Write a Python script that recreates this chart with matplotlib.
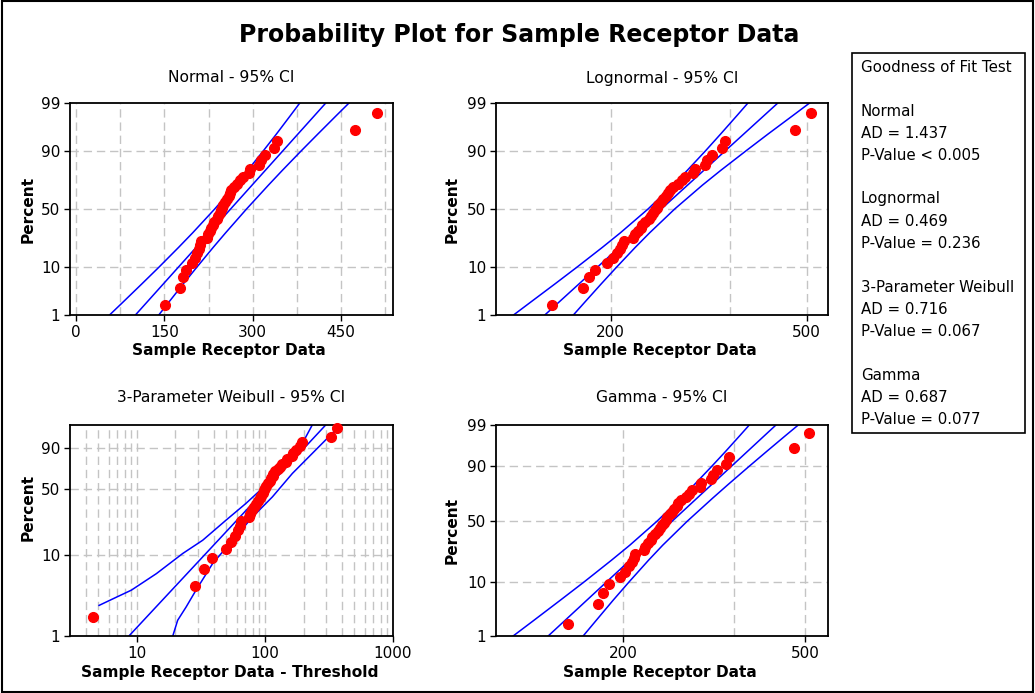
import numpy as np
import matplotlib
matplotlib.use("Agg")
import matplotlib.pyplot as plt
from matplotlib.ticker import FixedLocator, NullLocator, FixedFormatter
from matplotlib.patches import Rectangle
from statistics import NormalDist

W, H = 1035, 693

# ---------------- data ----------------
receptor_data = [152, 176, 181, 186, 197, 202, 206, 209, 211, 213,
                 222, 224, 227, 230, 232, 235, 239, 241, 244, 246,
                 248, 250, 253, 256, 259, 262, 264, 268, 274, 279,
                 283, 294, 296, 311, 314, 321, 336, 341, 473, 511]
weibull_threshold = 147.5
gamma_shape = 20.0

percent_ticks = [1, 10, 50, 90, 99]
weibull_percent_ticks = [1, 10, 50, 90]
normal_xticks = [0, 150, 300, 450]
log_xticks = [200, 500]
weibull_xticks = [10, 100, 1000]

# fitted lines and 95% CI bands: x values at the given percents
fit_percents = [1, 99]
band_percents = [1, 2, 5, 10, 20, 30, 50, 70, 80, 90, 95, 98, 99]
normal_fit = [101, 424]
normal_left = [57.1, 79.1, 111.8, 140.5, 174.3, 198.0, 235.5, 270.8, 291.1, 318.3, 340.2, 364.1, 379.9]
normal_right = [140.6, 157.1, 182.1, 204.9, 233.0, 253.9, 289.5, 326.7, 349.8, 382.7, 410.5, 442.1, 463.4]
lognormal_fit = [147, 437]
lognormal_left = [127.0, 137.2, 154.1, 170.6, 192.4, 209.2, 238.2, 267.6, 285.8, 311.9, 334.4, 361.2, 380.0]
lognormal_right = [168.0, 176.9, 191.3, 205.4, 224.4, 239.9, 269.8, 307.2, 334.1, 377.1, 417.4, 469.2, 507.0]
gamma_fit = [137.3, 431.8]
gamma_left = [115.1, 126.9, 146.1, 164.7, 188.7, 206.9, 237.3, 267.7, 286.4, 312.6, 334.8, 360.2, 377.6]
gamma_right = [163.7, 174.1, 190.5, 206.4, 227.4, 244.2, 276.3, 314.0, 339.2, 377.3, 411.6, 453.3, 483.1]

weibull_fit_percents = [1, 98.8]
weibull_fit = [8.66, 298]
weibull_left_percents = [2.4, 2.9, 3.7, 5.9, 10.3, 14.7, 24.7, 36.9, 54.2, 76.8, 92.6, 98.8]
weibull_left = [5.06, 6.51, 9.04, 14.2, 22.8, 32.6, 49.6, 71.0, 101.6, 145.5, 196, 234]
weibull_right_percents = [1.0, 1.57, 2.29, 3.69, 7.8, 14.7, 26.8, 42.7, 66.5, 85.8, 96.9, 98.8]
weibull_right = [19.05, 20.8, 24.2, 28.9, 39.0, 55.8, 80.0, 114.4, 163.7, 234.4, 335, 390]

gof_title = "Goodness of Fit Test"
gof_names = ["Normal", "Lognormal", "3-Parameter Weibull", "Gamma"]
gof_ad = ["1.437", "0.469", "0.716", "0.687"]
gof_p = ["< 0.005", "= 0.236", "= 0.067", "= 0.077"]

# ---------------- probability scales ----------------
_nd = NormalDist()
_inv = np.vectorize(_nd.inv_cdf, otypes=[float])
_cdf = np.vectorize(_nd.cdf, otypes=[float])


def _clip(p):
    return np.clip(np.asarray(p, dtype=float) / 100.0, 1e-9, 1 - 1e-9)


def normal_fwd(p):
    return _inv(_clip(p))


def normal_inv(z):
    return _cdf(np.asarray(z, dtype=float)) * 100.0


def weibull_fwd(p):
    q = _clip(p)
    return np.log(-np.log(1 - q))


def weibull_inv(w):
    return 100.0 * (1 - np.exp(-np.exp(np.asarray(w, dtype=float))))


_k = gamma_shape


def gamma_fwd(p):
    z = _inv(_clip(p))
    arg = 1 - 1 / (9 * _k) + z / (3 * np.sqrt(_k))
    return 3 * np.log(np.clip(arg, 1e-9, None))


def gamma_inv(y):
    z = (np.exp(np.asarray(y, dtype=float) / 3) - 1 + 1 / (9 * _k)) * 3 * np.sqrt(_k)
    return _cdf(z) * 100.0


n = len(receptor_data)
data_sorted = np.sort(np.array(receptor_data, dtype=float))
ranks = np.arange(1, n + 1)
plot_pct = (ranks - 0.3) / (n + 0.4) * 100.0

plt.rcParams['font.family'] = ['DejaVu Sans']

fig = plt.figure(figsize=(W / 100, H / 100), dpi=100)


def fx(x):
    return x / W


def fy(y):
    return 1 - y / H


def make_ax(l, t, r, b):
    return fig.add_axes([fx(l), fy(b), (r - l) / W, (b - t) / H])


grid_kw = dict(color='#c4c4c4', lw=1.0, dashes=(6, 3.5), zorder=0)
line_kw = dict(color='#0000ff', lw=1.1, zorder=2)
pt_kw = dict(ls='none', marker='o', ms=7, color='#ff0000', mec='#ff0000', zorder=3)


def style_ax(ax):
    for s in ax.spines.values():
        s.set_linewidth(1.3)
    ax.tick_params(axis='both', which='major', direction='out', length=4, width=1,
                   labelsize=11, pad=3, colors='black')
    ax.tick_params(axis='both', which='minor', length=0)


def percent_axis(ax, ticks):
    ax.yaxis.set_major_locator(FixedLocator(ticks))
    ax.yaxis.set_major_formatter(FixedFormatter([str(t) for t in ticks]))
    ax.yaxis.set_minor_locator(NullLocator())


def x_axis(ax, ticks):
    ax.xaxis.set_major_locator(FixedLocator(ticks))
    ax.xaxis.set_major_formatter(FixedFormatter([str(t) for t in ticks]))
    ax.xaxis.set_minor_locator(NullLocator())


# ---------------- Normal ----------------
ax1 = make_ax(70, 103, 393, 315)
ax1.set_yscale('function', functions=(normal_fwd, normal_inv))
ax1.set_xlim(-10, 538)
ax1.set_ylim(1, 99)
for gx in np.arange(0, 526, 75):
    ax1.axvline(gx, **grid_kw)
for gyv in [10, 50, 90]:
    ax1.axhline(gyv, **grid_kw)
ax1.plot(normal_left, band_percents, **line_kw)
ax1.plot(normal_fit, fit_percents, **line_kw)
ax1.plot(normal_right, band_percents, **line_kw)
ax1.plot(data_sorted, plot_pct, clip_on=False, **pt_kw)
x_axis(ax1, normal_xticks)
percent_axis(ax1, percent_ticks)
style_ax(ax1)

# ---------------- Lognormal ----------------
ax2 = make_ax(496, 103, 828, 315)
ax2.set_xscale('log')
ax2.set_yscale('function', functions=(normal_fwd, normal_inv))
ax2.set_xlim(117, 552.5)
ax2.set_ylim(1, 99)
for gx in [200, 350, 500]:
    ax2.axvline(gx, **grid_kw)
for gyv in [10, 50, 90]:
    ax2.axhline(gyv, **grid_kw)
ax2.plot(lognormal_left, band_percents, **line_kw)
ax2.plot(lognormal_fit, fit_percents, **line_kw)
ax2.plot(lognormal_right, band_percents, **line_kw)
ax2.plot(data_sorted, plot_pct, clip_on=False, **pt_kw)
x_axis(ax2, log_xticks)
percent_axis(ax2, percent_ticks)
style_ax(ax2)

# ---------------- 3-Parameter Weibull ----------------
ax3 = make_ax(70, 425, 393, 636)
ax3.set_xscale('log')
ax3.set_yscale('function', functions=(weibull_fwd, weibull_inv))
ax3.set_xlim(3, 1000)
ax3.set_ylim(1, 98.8)
for dec in [1, 10, 100]:
    for m in range(2, 10):
        v = dec * m
        if v > 3:
            ax3.axvline(v, **grid_kw)
for gx in [10, 100]:
    ax3.axvline(gx, **grid_kw)
for gyv in [10, 50, 90]:
    ax3.axhline(gyv, **grid_kw)
ax3.plot(weibull_left, weibull_left_percents, **line_kw)
ax3.plot(weibull_fit, weibull_fit_percents, **line_kw)
ax3.plot(weibull_right, weibull_right_percents, **line_kw)
ax3.plot(data_sorted - weibull_threshold, plot_pct, clip_on=False, **pt_kw)
x_axis(ax3, weibull_xticks)
percent_axis(ax3, weibull_percent_ticks)
style_ax(ax3)

# ---------------- Gamma ----------------
ax4 = make_ax(496, 425, 828, 636)
ax4.set_xscale('log')
ax4.set_yscale('function', functions=(gamma_fwd, gamma_inv))
ax4.set_xlim(105.6, 561)
ax4.set_ylim(1, 99)
for gx in [200, 350, 500]:
    ax4.axvline(gx, **grid_kw)
for gyv in [10, 50, 90]:
    ax4.axhline(gyv, **grid_kw)
ax4.plot(gamma_left, band_percents, **line_kw)
ax4.plot(gamma_fit, fit_percents, **line_kw)
ax4.plot(gamma_right, band_percents, **line_kw)
ax4.plot(data_sorted, plot_pct, clip_on=False, **pt_kw)
x_axis(ax4, log_xticks)
percent_axis(ax4, percent_ticks)
style_ax(ax4)

# ---------------- texts ----------------
fig.text(fx(519), fy(35), "Probability Plot for Sample Receptor Data",
         ha='center', va='center', fontsize=17, fontweight='bold')

sub_kw = dict(ha='center', va='center', fontsize=11.2)
fig.text(fx(231.5), fy(78), "Normal - 95% CI", **sub_kw)
fig.text(fx(662), fy(78), "Lognormal - 95% CI", **sub_kw)
fig.text(fx(231.5), fy(398), "3-Parameter Weibull - 95% CI", **sub_kw)
fig.text(fx(662), fy(398), "Gamma - 95% CI", **sub_kw)

lab_kw = dict(ha='center', va='center', fontsize=11.1, fontweight='bold')
fig.text(fx(229), fy(351), "Sample Receptor Data", **lab_kw)
fig.text(fx(660), fy(351), "Sample Receptor Data", **lab_kw)
fig.text(fx(230), fy(672), "Sample Receptor Data - Threshold", **lab_kw)
fig.text(fx(660), fy(672), "Sample Receptor Data", **lab_kw)

fig.text(fx(28), fy(209), "Percent", rotation=90, **lab_kw)
fig.text(fx(452), fy(209), "Percent", rotation=90, **lab_kw)
fig.text(fx(28), fy(507), "Percent", rotation=90, **lab_kw)
fig.text(fx(452), fy(530), "Percent", rotation=90, **lab_kw)

# goodness of fit box
fig.patches.append(Rectangle((fx(852), fy(433)), 173 / W, 380 / H,
                             transform=fig.transFigure, fill=False,
                             edgecolor='black', lw=1.2))
gk = dict(ha='left', va='center', fontsize=10.8)
fig.text(fx(861), fy(67), gof_title, **gk)
y0 = 111
for name, ad, pv in zip(gof_names, gof_ad, gof_p):
    fig.text(fx(861), fy(y0), name, **gk)
    fig.text(fx(861), fy(y0 + 22), "AD = " + ad, **gk)
    fig.text(fx(861), fy(y0 + 44), "P-Value " + pv, **gk)
    y0 += 88

# outer border
fig.patches.append(Rectangle((0.0015, 0.002), 0.997, 0.996,
                             transform=fig.transFigure, fill=False,
                             edgecolor='black', lw=1.5))

fig.savefig("out.png", dpi=100)
